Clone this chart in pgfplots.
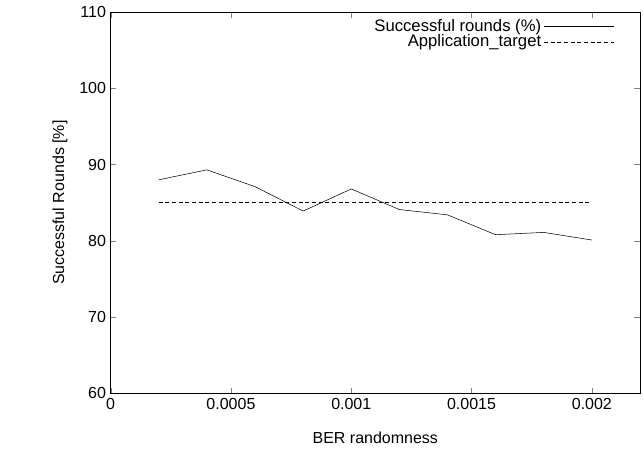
\documentclass[border=0pt]{standalone}
\usepackage{pgfplots}
\pgfplotsset{compat=1.18}
\usepackage{fontspec}
\setmainfont{Liberation Sans}
\begin{document}
\begin{tikzpicture}
\useasboundingbox (-83pt,-52.5pt) rectangle (400pt,295pt);
\begin{axis}[scale only axis, width=397pt, height=286pt, at={(0,0)}, anchor=south west,
xmin=0, xmax=0.0022, ymin=60, ymax=110,
xtick={0,0.0005,0.001,0.0015,0.002},
xticklabels={0,0.0005,0.001,0.0015,0.002},
ytick={60,70,80,90,100,110},
tick align=inside, tick pos=both,
scaled x ticks=false,
/pgf/number format/assume math mode=true,
tick label style={font=\fontsize{12}{14}\selectfont},
label style={font=\fontsize{12}{14}\selectfont},
xlabel={BER randomness}, ylabel={Successful Rounds [\%]},
xlabel style={at={(axis description cs:0.5,0)}, yshift=-33pt, anchor=center},
ylabel style={at={(axis description cs:0,0.5)}, yshift=38pt, anchor=center},
legend style={draw=none, fill=none, at={(0.96,0.995)}, anchor=north east, font=\fontsize{12.5}{14}\selectfont, row sep=-3pt},
legend cell align=right, legend plot pos=right,
legend image code/.code={\draw[#1] (0.3cm,0cm) -- (2.15cm,0cm);},
]
\addplot[black, thin] coordinates {(0.0002,88.0)(0.0004,89.3)(0.0006,87.1)(0.0008,83.9)(0.001,86.8)(0.0012,84.1)(0.0014,83.4)(0.0016,80.8)(0.0018,81.1)(0.002,80.1)};
\addlegendentry{Successful rounds (\%)}
\addplot[black, thin, densely dashed] coordinates {(0.0002,85.1)(0.002,85.1)};
\addlegendentry{Application\_target}
\end{axis}
\end{tikzpicture}
\end{document}
